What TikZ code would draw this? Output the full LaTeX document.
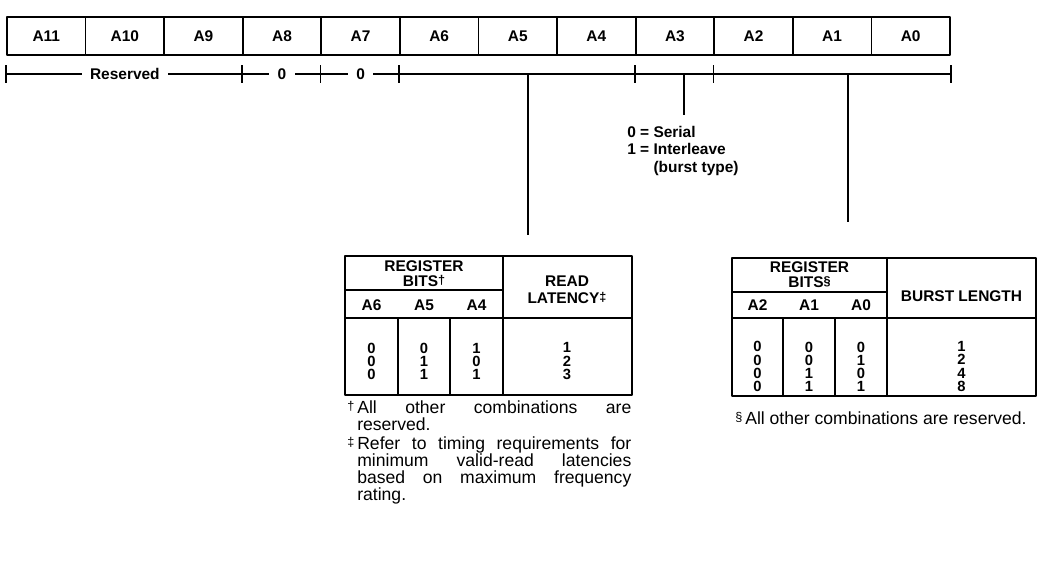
\documentclass[tikz,border=0pt]{standalone}
\usepackage{fontspec}
\setmainfont{Liberation Sans}

\newcommand\fnmark[1]{\raisebox{1.5pt}{\fontsize{9}{9}\selectfont#1}}

\begin{document}
\begin{tikzpicture}[
  x={(0.025cm,0cm)}, y={(0cm,-0.025cm)},
  line join=round,
  bitcell/.style={draw, line width=1.2pt, minimum width=1.965cm, minimum height=0.95cm,
    inner sep=0pt, font=\fontsize{11}{12}\selectfont\bfseries},
  rule/.style={line width=1.2pt},
  grid/.style={line width=1.3pt},
  label/.style={font=\fontsize{11}{12.4}\selectfont\bfseries, inner sep=0pt},
  gap/.style={label, fill=white, inner xsep=6pt, inner ysep=1pt},
  colvals/.style={font=\fontsize{10.5}{9.3}\selectfont\bfseries, align=center, inner sep=0pt},
  colhead/.style={colvals, font=\fontsize{11}{10.6}\selectfont\bfseries},
  note/.style={font=\fontsize{12.5}{12.1}\selectfont, align=justify, text width=6.85cm,
    inner sep=0pt, anchor=north west},
]

\useasboundingbox (0,0) rectangle (1062,574);

% ── the twelve address bits ───────────────────────────────────────────────
\foreach \i in {0,...,11} {
  \node[bitcell] (b\i) at ({46.29+78.58*(11-\i)}, 36) {A\i};
}

% ── the bracket line under them, split into fields ────────────────────────
\coordinate (brk) at (7,74);
\draw[rule] (b11.south west |- brk) -- (b0.south east |- brk);
\foreach \c in {b11.south west, b8.south west, b7.south west, b6.south west,
                b3.south west, b2.south west, b0.south east} {
  \draw[rule] (\c |- brk) ++(0,-9) -- ++(0,18);
}
\node[gap] (res)  at (b10.south |- brk) {Reserved};
\node[gap] (zero8) at (b8.south |- brk) {0};
\node[gap] (zero7) at (b7.south |- brk) {0};

% drops from the fields
\coordinate (latdrop) at (528,74);
\coordinate (typdrop) at (684,74);
\coordinate (lendrop) at (848,74);
\draw[rule] (latdrop) -- ++(0,161);
\draw[rule] (typdrop) -- ++(0,41);
\draw[rule] (lendrop) -- ++(0,148);

\node[label, align=left, anchor=north west] (btype) at (627,126)
  {0 = Serial\\1 = Interleave\\\hphantom{1 = }(burst type)};

% ── read latency table ────────────────────────────────────────────────────
\begin{scope}[shift={(345,256)}]
  \draw[grid] (0,0) rectangle (287,139);
  \draw[grid] (0,34) -- (158,34);
  \draw[grid] (0,62) -- (287,62);
  \draw[grid] (158,0) -- (158,139);
  \draw[grid] (53,62) -- (53,139);
  \draw[grid] (105,62) -- (105,139);

  \node[colhead] (lbits) at (79,18) {REGISTER\\BITS\fnmark{†}};
  \node[colhead] (lh6) at (26.5,49) {A6};
  \node[colhead] (lh5) at (79,49) {A5};
  \node[colhead] (lh4) at (131.5,49) {A4};
  \node[colhead, font=\fontsize{11}{12}\selectfont\bfseries] (lhlat) at (222,34)
    {READ\\LATENCY\fnmark{‡}};

  \node[colvals] (l6) at (26.5,105) {0\\0\\0};
  \node[colvals] (l5) at (79,105) {0\\1\\1};
  \node[colvals] (l4) at (131.5,105) {1\\0\\1};
  \node[colvals] (llat) at (222,105) {1\\2\\3};
\end{scope}

\node[note] (lnote1) at (357,400)
  {\llap{\fnmark{†}\,}All other combinations are\linebreak reserved.};
\node[note] (lnote2) at (357,436)
  {\llap{\fnmark{‡}\,}Refer to timing requirements for\linebreak
   minimum valid-read latencies\linebreak based on maximum frequency\linebreak rating.};

% ── burst length table ────────────────────────────────────────────────────
\begin{scope}[shift={(732,258)}]
  \draw[grid] (0,0) rectangle (304,138);
  \draw[grid] (0,34) -- (155,34);
  \draw[grid] (0,60) -- (304,60);
  \draw[grid] (155,0) -- (155,138);
  \draw[grid] (51,60) -- (51,138);
  \draw[grid] (103,60) -- (103,138);

  \node[colhead] (bbits) at (77.5,17) {REGISTER\\BITS\fnmark{§}};
  \node[colhead] (bh2) at (25.5,47) {A2};
  \node[colhead] (bh1) at (77,47) {A1};
  \node[colhead] (bh0) at (129,47) {A0};
  \node[colhead] (bhlen) at (229.5,38) {BURST LENGTH};

  \node[colvals] (b2v) at (25.5,108.5) {0\\0\\0\\0};
  \node[colvals] (b1v) at (77,108.5) {0\\0\\1\\1};
  \node[colvals] (b0v) at (129,108.5) {0\\1\\0\\1};
  \node[colvals] (blen) at (229.5,108.5) {1\\2\\4\\8};
\end{scope}

\node[note, align=left, text width=] (bnote) at (745,411)
  {\llap{\fnmark{§}\,}All other combinations are reserved.};

\end{tikzpicture}
\end{document}
